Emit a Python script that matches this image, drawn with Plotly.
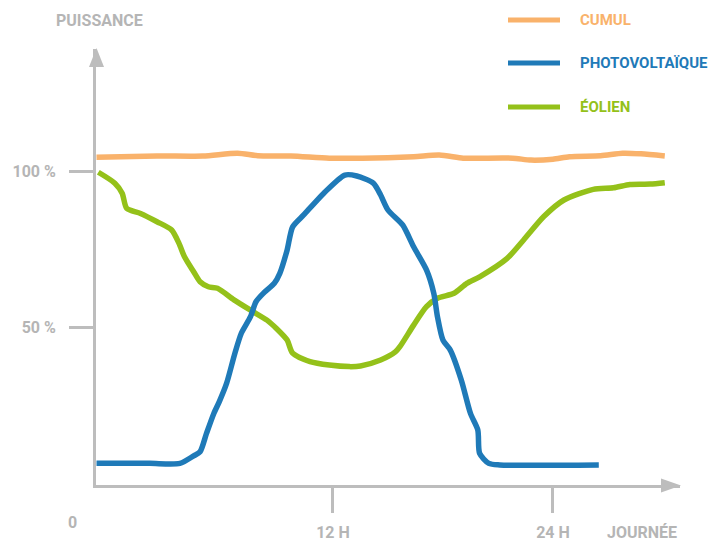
import plotly.graph_objects as go

# ---- data (hours, percent of nominal power) ----
cumul_h = [-0.9, 2.4, 4.9, 6.8, 7.9, 9.7, 11.8, 13.6, 16.4, 17.8, 19.1, 20.0, 21.8, 22.8, 24.0, 24.9, 26.6, 27.8, 28.8, 30.1]
cumul_v = [104.4, 104.8, 104.8, 105.7, 104.9, 104.8, 104.1, 104.1, 104.6, 105.1, 104.1, 104.1, 104.1, 103.5, 103.8, 104.6, 104.9, 105.7, 105.5, 104.8]

pv_h = [-0.9, 2.0, 3.65, 4.4, 4.75, 5.1, 5.5, 5.8, 6.2, 6.65, 7.0, 7.5, 7.8, 8.2, 8.8, 9.1, 9.5, 9.8, 10.4, 11.5,
        12.65, 13.3, 14.2, 14.6, 15.0, 15.8, 16.4, 17.1, 17.5, 17.7, 18.0, 18.4, 19.0, 19.5, 19.9, 20.0, 20.5, 21.1, 26.5]
pv_v = [6.3, 6.3, 6.3, 8.7, 10.0, 15.9, 22.3, 26.1, 32.0, 41.6, 48.0, 53.3, 58.1, 60.8, 64.0, 67.2, 74.7, 82.1, 85.9, 92.9,
        98.7, 98.4, 96.1, 92.3, 87.5, 82.7, 75.7, 68.3, 60.8, 53.3, 45.8, 42.6, 33.0, 22.3, 17.0, 9.5, 6.3, 5.8, 5.8]

eol_h = [-0.8, 0.1, 0.5, 0.75, 1.5, 2.4, 3.2, 3.6, 3.9, 4.4, 4.75, 5.2, 5.7, 6.6, 7.5, 8.4, 8.9, 9.5, 9.8, 10.75,
         11.8, 12.9, 13.5, 14.6, 15.4, 15.65, 16.4, 17.1, 17.7, 18.6, 19.3, 20.0, 21.5, 22.4, 23.5, 24.6, 26.2, 27.3, 28.2, 29.3, 30.1]
eol_v = [99.6, 96.1, 92.9, 88.0, 86.4, 83.75, 81.1, 76.8, 72.5, 67.7, 64.5, 62.9, 62.4, 58.7, 55.4, 52.2, 49.6, 45.8, 41.6, 38.9,
         37.8, 37.3, 37.5, 39.4, 42.0, 43.7, 50.6, 56.5, 59.2, 60.8, 64.0, 66.1, 72.0, 77.9, 85.4, 90.7, 94.1, 94.6, 95.7, 95.8, 96.25]

series_names = ["CUMUL", "PHOTOVOLTAÏQUE", "ÉOLIEN"]
y_ticks = [50, 100]
y_ticktext = ["50 %", "100 %"]
x_ticks = [12, 24]
x_ticktext = ["12 H", "24 H"]

# ---- style ----
ORANGE = "#F9B26B"
BLUE = "#1F7AB8"
GREEN = "#94C11A"
GRAY = "#BDBDBD"
TXT = "#B5B5B5"
FONT = "Roboto, sans-serif"
FS = 16

OFF = 8  # page body margin in the browser
W, H = 717 - OFF, 542 - OFF
PW, PH = 584, 436
ML, MT = 96 - OFF, 49 - OFF
MR, MB = W - ML - PW, H - MT - PH


def px(x):
    return (x - OFF - ML) / PW


def py(y):
    return (MT + PH - (y - OFF)) / PH


fig = go.Figure()
for name, xs, ys, col in [(series_names[0], cumul_h, cumul_v, ORANGE),
                          (series_names[2], eol_h, eol_v, GREEN),
                          (series_names[1], pv_h, pv_v, BLUE)]:
    fig.add_trace(go.Scatter(x=xs, y=ys, mode="lines", name=name,
                             line=dict(color=col, width=5.5, shape="spline", smoothing=0.7),
                             showlegend=False, hoverinfo="skip"))

shapes = [
    dict(type="path", xref="paper", yref="paper",
         path=f"M {px(96.5)} {py(48)} L {px(89)} {py(67)} L {px(104)} {py(67)} Z",
         fillcolor=GRAY, line=dict(width=0)),
    dict(type="path", xref="paper", yref="paper",
         path=f"M {px(681)} {py(485.5)} L {px(661)} {py(478.5)} L {px(661)} {py(492.5)} Z",
         fillcolor=GRAY, line=dict(width=0)),
]
annotations = []
leg_y = [20, 63, 107]
leg_cols = [ORANGE, BLUE, GREEN]
for name, yy, col in zip(series_names, leg_y, leg_cols):
    shapes.append(dict(type="line", xref="paper", yref="paper",
                       x0=px(508), x1=px(560), y0=py(yy), y1=py(yy),
                       line=dict(color=col, width=5)))
    annotations.append(dict(x=px(578), y=py(yy), xref="paper", yref="paper",
                            text=f"<b>{name}</b>", showarrow=False,
                            xanchor="left", yanchor="middle",
                            font=dict(family=FONT, size=15, color=col)))

annotations += [
    dict(x=px(99), y=py(21), xref="paper", yref="paper", text="<b>PUISSANCE</b>",
         showarrow=False, xanchor="center", yanchor="middle",
         font=dict(family=FONT, size=FS, color=TXT)),
    dict(x=px(72), y=py(522), xref="paper", yref="paper", text="<b>0</b>",
         showarrow=False, xanchor="center", yanchor="middle",
         font=dict(family=FONT, size=FS, color=TXT)),
    dict(x=px(642), y=py(532), xref="paper", yref="paper", text="<b>JOURNÉE</b>",
         showarrow=False, xanchor="center", yanchor="middle",
         font=dict(family=FONT, size=FS, color=TXT)),
]

fig.update_layout(
    template="none",
    width=W, height=H,
    margin=dict(l=ML, r=MR, t=MT, b=MB, pad=0, autoexpand=False),
    paper_bgcolor="white", plot_bgcolor="white",
    showlegend=False,
    shapes=shapes, annotations=annotations,
    font=dict(family=FONT, size=FS, color=TXT),
    xaxis=dict(range=[-0.927, 30.93], showgrid=False, zeroline=False, automargin=False,
               showline=True, linecolor=GRAY, linewidth=3,
               tickvals=x_ticks, ticktext=[f"<b>{t}</b>" for t in x_ticktext],
               ticks="outside", ticklen=25, tickwidth=3, tickcolor=GRAY,
               ticklabelstandoff=6,
               tickfont=dict(family=FONT, size=FS, color=TXT), fixedrange=True),
    yaxis=dict(range=[-0.64, 139.1], showgrid=False, zeroline=False, automargin=False,
               showline=True, linecolor=GRAY, linewidth=3,
               tickvals=y_ticks, ticktext=[f"<b>{t}</b>" for t in y_ticktext],
               ticks="outside", ticklen=24, tickwidth=3, tickcolor=GRAY,
               ticklabelstandoff=10,
               tickfont=dict(family=FONT, size=FS, color=TXT), fixedrange=True),
)

fig.write_html("out.html")
